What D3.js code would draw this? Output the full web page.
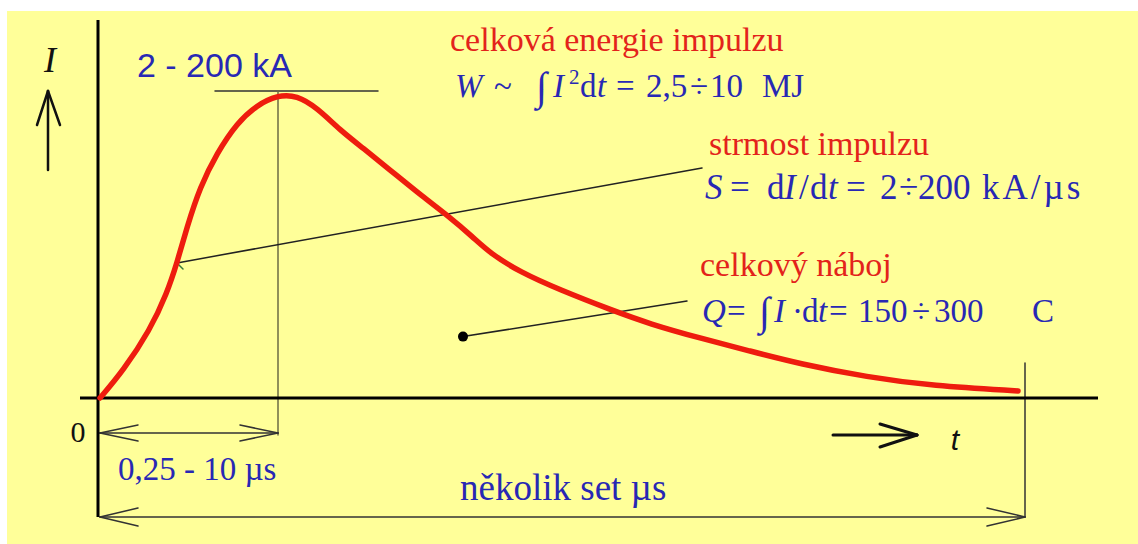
<!DOCTYPE html>
<html>
<head>
<meta charset="utf-8">
<script src="https://cdn.jsdelivr.net/npm/d3@7"></script>
<style>
body { margin:0; background:#fff; }
svg { display:block; }
.serif { font-family:"Liberation Serif","Times New Roman",serif; }
.sans { font-family:"Liberation Sans",Arial,sans-serif; }
.red { fill:#e3231b; }
.blue { fill:#2828b4; }
</style>
</head>
<body>
<svg width="1138" height="544"></svg>
<script>
// pulse shape (time in arbitrary units, current in % of peak)
const tValues = [0, 23, 50, 67, 77, 87, 100, 117, 137, 157, 177, 197, 217, 240, 263, 290, 323, 347, 373, 390, 420, 460, 511, 550, 600, 650, 700, 767, 833, 918]
const iValues = [0, 8.8, 22.1, 34.2, 44, 55.7, 68.7, 79.8, 89.6, 95.4, 98.6, 98.6, 94.5, 87.3, 81.4, 74.3, 65.5, 59.6, 52.4, 47.2, 41, 35.2, 28.7, 24.1, 19.5, 15.3, 11.1, 6.8, 3.9, 2.3]

const tPeak = 178      // time of maximum
const tEnd = 925       // end of the "několik set µs" span
const tSteep = 77      // point where the steepness is marked
const chargeDot = [363, 20]

const svg = d3.select("svg")

// yellow slide background
svg.append("rect")
	.attr("x", 7).attr("y", 11)
	.attr("width", 1131).attr("height", 533)
	.attr("fill", "#ffff99")

const x = d3.scaleLinear().domain([0, 1000]).range([100, 1100])
const y = d3.scaleLinear().domain([0, 100]).range([398, 91])

const data = tValues.map((t,i)=>({t:t, i:iValues[i]}))

// helper for thin lines
function seg(x1,y1,x2,y2,w,c){
	return svg.append("line")
		.attr("x1",x1).attr("y1",y1).attr("x2",x2).attr("y2",y2)
		.attr("stroke",c||"#222").attr("stroke-width",w||1.5)
		.attr("stroke-linecap","round")
}
function arrowHead(tx,ty,dir,len,spread,w,c){
	// open chevron, dir = +1 points right, -1 left
	seg(tx,ty,tx-dir*len,ty-spread,w,c)
	seg(tx,ty,tx-dir*len,ty+spread,w,c)
}

// peak markers
seg(x(115), y(100), x(278), y(100), 1.5, "#333")
seg(x(tPeak), y(100), x(tPeak), 435, 1.5, "#6b6b45")

// rise time arrow
seg(x(0), 433, x(tPeak), 433, 1.5, "#333")
arrowHead(x(0), 433, -1, 38, 8, 1.5, "#333")
arrowHead(x(tPeak), 433, 1, 38, 8, 1.5, "#333")

// total duration arrow
seg(x(tEnd), 363, x(tEnd), 517, 1.5, "#333")
seg(x(0), 517, x(tEnd), 517, 1.5, "#333")
arrowHead(x(0), 517, -1, 38, 9, 1.5, "#333")
arrowHead(x(tEnd), 517, 1, 38, 9, 1.5, "#333")

// axes
seg(98, 20, 98, 517, 3, "#000").attr("stroke-linecap","butt")
seg(80, y(0), 1098, y(0), 3, "#000").attr("stroke-linecap","butt")

// I arrow
seg(48, 170, 48, 91, 2.5, "#111")
seg(48, 91, 37, 125, 2.5, "#111")
seg(48, 91, 60, 125, 2.5, "#111")

// t arrow
seg(833, 435, 917, 435, 3, "#111")
seg(917, 435, 880, 424, 3, "#111")
seg(917, 435, 880, 447, 3, "#111")

// leader lines
seg(702, 168, x(tSteep), y(44), 1.5, "#222")
seg(x(tSteep), y(44), x(tSteep)+6, y(44)+6, 1.5, "#3a7a3a")
seg(x(chargeDot[0]), y(chargeDot[1]), 687, 301, 1.5, "#222")
svg.append("circle")
	.attr("cx", x(chargeDot[0])).attr("cy", y(chargeDot[1]))
	.attr("r", 5).attr("fill", "#000")

// the pulse
const line = d3.line()
	.x(d=>x(d.t))
	.y(d=>y(d.i))
	.curve(d3.curveBasis)

svg.append("path")
	.datum(data)
	.attr("d", line)
	.attr("fill", "none")
	.attr("stroke", "#ee1c0e")
	.attr("stroke-width", 5.5)
	.attr("stroke-linecap", "round")

// texts
function txt(cls, xx, yy, size){
	return svg.append("text").attr("class", cls)
		.attr("x", xx).attr("y", yy).style("font-size", size+"px")
}

txt("serif", 50, 72, 36).style("font-style","italic").attr("text-anchor","middle").attr("fill","#111").text("I")
txt("serif", 78, 442, 30).attr("text-anchor","middle").attr("fill","#111").text("0")
txt("sans", 955, 450, 30).style("font-style","italic").attr("text-anchor","middle").attr("fill","#111").text("t")

txt("sans blue", 137, 77, 34).attr("fill","#1c1c9c").text("2 - 200 kA")
txt("serif blue", 118, 480, 33).text("0,25 - 10 µs")
txt("serif blue", 460, 500, 37).attr("fill","#22229e").text("několik set µs")

txt("serif red", 450, 51, 34).text("celková energie impulzu")
txt("serif red", 709, 155, 34).text("strmost impulzu")
txt("serif red", 700, 276, 34).text("celkový náboj")

// formulas: each piece placed where it sits in the picture
// flags: it = italic, int = integral sign (lowered), up = back to baseline after it,
// sup = superscript, down = back from superscript, wide = letter-spaced unit
function formula(yy, size, parts){
	const t = txt("serif blue", 0, yy, size)
	parts.forEach(p=>{
		const f = (p[2] || "").split(" ")
		const sp = t.append("tspan").attr("x", p[0]).text(p[1])
		if (f.includes("it")) sp.style("font-style","italic")
		if (f.includes("int")) sp.style("font-size","40px").attr("dy", 3)
		if (f.includes("up")) sp.attr("dy", -3)
		if (f.includes("sup")) sp.style("font-size","21px").attr("dy", -13)
		if (f.includes("down")) sp.attr("dy", 13)
		if (f.includes("wide")) sp.style("letter-spacing","3px")
	})
}
formula(97, 33, [[455,"W","it"],[494,"~"],[536,"∫","int"],[553,"I","it up"],[569,"2","sup"],[580,"d","down"],[597,"t","it"],[616,"="],[646,"2,5"],[690,"÷"],[710,"10"],[762,"MJ"]])
formula(199, 35, [[705,"S","it"],[730,"="],[767,"d"],[784,"I","it"],[799,"/"],[810,"d"],[828,"t","it"],[846,"="],[880,"2"],[899,"÷"],[918,"200"],[982,"kA/µs","wide"]])
formula(322, 33, [[702,"Q","it"],[727,"="],[759,"∫","int"],[774,"I","it up"],[792,"·"],[802,"d"],[818,"t","it"],[829,"="],[858,"150"],[912,"÷"],[934,"300"],[1032,"C"]])
</script>
</body>
</html>
